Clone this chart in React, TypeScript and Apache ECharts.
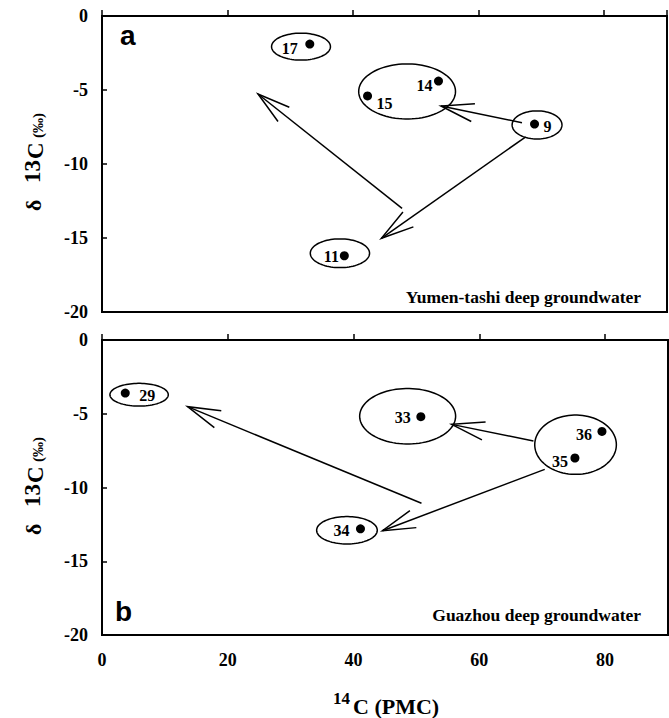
import React, { useEffect, useRef } from "react";
import * as echarts from "echarts";

// ---- data ----
const wellsA = ["17", "14", "15", "9", "11"];
const pmcA = [33.1, 53.6, 42.3, 68.9, 38.6];
const d13cA = [-1.9, -4.4, -5.4, -7.3, -16.2];

const wellsB = ["29", "33", "36", "35", "34"];
const pmcB = [3.7, 50.7, 79.5, 75.2, 41.1];
const d13cB = [-3.6, -5.2, -6.2, -8.0, -12.8];

// sample groups: [centre PMC, centre d13C, half-width PMC, half-height d13C]
const groupsA = [
  [31.7, -2.07, 4.69, 0.91],
  [48.6, -5.1, 7.71, 1.86],
  [69.3, -7.36, 3.97, 0.95],
  [37.9, -16.03, 4.72, 0.97],
];
const groupsB = [
  [5.9, -3.71, 4.64, 0.77],
  [48.6, -5.17, 7.63, 1.88],
  [75.3, -7.1, 6.49, 2.01],
  [38.95, -12.9, 4.82, 0.93],
];

// evolution trends: [from PMC, from d13C, to PMC, to d13C]
const trendsA = [
  [47.8, -13.0, 24.85, -5.27],
  [67.5, -8.16, 44.5, -15.02],
  [66.9, -7.21, 54.0, -6.08],
];
const trendsB = [
  [50.8, -11.07, 13.6, -4.52],
  [70.4, -8.77, 44.6, -12.93],
  [68.6, -6.85, 55.6, -5.72],
];

const xTickStep = 20;
const yTickStep = 5;

// label placement (pixel offsets of the label centre from the dot centre)
const labelOffsetsA = [[-20, 4], [-14, 4], [17, 8], [13, 2], [-13, 1]];
const labelOffsetsB = [[22, 2], [-18, 1], [-18, 3], [-15, 3], [-19, 2]];

const SERIF = "'Liberation Serif', 'Times New Roman', serif";
const SANS = "'Liberation Sans', Arial, sans-serif";
const DOT = 9;

function ellipseRender(params: any, api: any) {
  const c = api.coord([api.value(0), api.value(1)]);
  const s = api.size([api.value(2), api.value(3)]);
  const pts: number[][] = [];
  const n = 90;
  for (let i = 0; i < n; i++) {
    const t = (i / n) * Math.PI * 2;
    pts.push([c[0] + s[0] * Math.cos(t), c[1] + s[1] * Math.sin(t)]);
  }
  return {
    type: "polygon",
    shape: { points: pts },
    style: { fill: "none", stroke: "#000", lineWidth: 1.5 },
  };
}

function arrowRender(params: any, api: any) {
  const p1 = api.coord([api.value(0), api.value(1)]);
  const p2 = api.coord([api.value(2), api.value(3)]);
  const ang = Math.atan2(p1[1] - p2[1], p1[0] - p2[0]);
  const L = 34;
  const spread = (15.5 * Math.PI) / 180;
  const h1 = [p2[0] + L * Math.cos(ang + spread), p2[1] + L * Math.sin(ang + spread)];
  const h2 = [p2[0] + L * Math.cos(ang - spread), p2[1] + L * Math.sin(ang - spread)];
  const style = { fill: "none", stroke: "#000", lineWidth: 1.5 };
  return {
    type: "group",
    children: [
      { type: "line", shape: { x1: p1[0], y1: p1[1], x2: p2[0], y2: p2[1] }, style },
      { type: "polyline", shape: { points: [h1, p2, h2] }, style },
    ],
  };
}

function yTitle(gy: number) {
  return {
    type: "group",
    x: 0,
    y: gy,
    rotation: Math.PI / 2,
    children: [
      { type: "text", x: 0, y: 33, style: { text: "δ", font: `bold 22px ${SERIF}`, fill: "#000", verticalAlign: "middle" } },
      { type: "text", x: 28, y: 32, style: { text: "13", font: `bold 23px ${SERIF}`, fill: "#000", verticalAlign: "middle" } },
      { type: "text", x: 52, y: 35.5, style: { text: "C", font: `bold 23px ${SERIF}`, fill: "#000", verticalAlign: "middle" } },
      { type: "text", x: 73, y: 38, style: { text: "(‰)", font: `bold 15px ${SERIF}`, fill: "#000", verticalAlign: "middle" } },
    ],
  };
}

function xAxisCfg(gridIndex: number, showLabels: boolean) {
  return {
    type: "value",
    gridIndex,
    min: 0,
    max: 90,
    interval: xTickStep,
    axisLine: { show: true, lineStyle: { color: "#000", width: 2 } },
    axisTick: { show: true, inside: true, length: 6, lineStyle: { color: "#000", width: 1.5 } },
    axisLabel: {
      show: showLabels,
      showMaxLabel: false,
      margin: 16,
      color: "#000",
      fontFamily: SERIF,
      fontWeight: "bold",
      fontSize: 18,
    },
    splitLine: { show: false },
  };
}

function yAxisCfg(gridIndex: number) {
  return {
    type: "value",
    gridIndex,
    min: -20,
    max: 0,
    interval: yTickStep,
    axisLine: { show: true, lineStyle: { color: "#000", width: 2 } },
    axisTick: { show: true, inside: true, length: 5, lineStyle: { color: "#000", width: 1.5 } },
    axisLabel: {
      margin: 14,
      color: "#000",
      fontFamily: SERIF,
      fontWeight: "bold",
      fontSize: 18,
    },
    splitLine: { show: false },
  };
}

function pointsSeries(idx: number, names: string[], xs: number[], ys: number[], offs: number[][]) {
  return {
    type: "scatter",
    xAxisIndex: idx,
    yAxisIndex: idx,
    symbol: "circle",
    symbolSize: DOT,
    itemStyle: { color: "#000", opacity: 1 },
    label: {
      show: true,
      formatter: "{b}",
      color: "#000",
      opacity: 1,
      textBorderWidth: 0,
      align: "center",
      verticalAlign: "middle",
      fontFamily: SERIF,
      fontWeight: "bold",
      fontSize: 16,
    },
    data: xs.map((x, i) => ({
      name: names[i],
      value: [x, ys[i]],
      label: { position: [DOT / 2 + offs[i][0], DOT / 2 + offs[i][1]] },
    })),
    z: 5,
  };
}

function groupSeries(idx: number, data: number[][]) {
  return {
    type: "custom",
    xAxisIndex: idx,
    yAxisIndex: idx,
    renderItem: ellipseRender,
    encode: { x: 0, y: 1 },
    data,
    silent: true,
  };
}

function trendSeries(idx: number, data: number[][]) {
  return {
    type: "custom",
    xAxisIndex: idx,
    yAxisIndex: idx,
    renderItem: arrowRender,
    encode: { x: [0, 2], y: [1, 3] },
    data,
    silent: true,
  };
}

export default function App() {
  const ref = useRef<HTMLDivElement>(null);
  useEffect(() => {
    if (!ref.current) return;
    const chart = echarts.init(ref.current, null, { renderer: "svg" });
    chart.setOption({
      animation: false,
      backgroundColor: "#fff",
      grid: [
        { left: 102, top: 16, right: 2, height: 296, show: true, borderColor: "#000", borderWidth: 2, backgroundColor: "transparent" },
        { left: 102, top: 340, right: 1, height: 295, show: true, borderColor: "#000", borderWidth: 2, backgroundColor: "transparent" },
      ],
      xAxis: [xAxisCfg(0, false), xAxisCfg(1, true)],
      yAxis: [yAxisCfg(0), yAxisCfg(1)],
      series: [
        groupSeries(0, groupsA),
        trendSeries(0, trendsA),
        pointsSeries(0, wellsA, pmcA, d13cA, labelOffsetsA),
        groupSeries(1, groupsB),
        trendSeries(1, trendsB),
        pointsSeries(1, wellsB, pmcB, d13cB, labelOffsetsB),
      ],
      graphic: [
        { type: "text", x: 120, y: 35, style: { text: "a", font: `bold 28px ${SANS}`, fill: "#000", verticalAlign: "middle" } },
        { type: "text", x: 115, y: 611, style: { text: "b", font: `bold 28px ${SANS}`, fill: "#000", verticalAlign: "middle" } },
        { type: "text", x: 641, y: 297, style: { text: "Yumen-tashi deep groundwater", font: `bold 17.5px ${SERIF}`, fill: "#000", align: "right", verticalAlign: "middle" } },
        { type: "text", x: 641, y: 615, style: { text: "Guazhou deep groundwater", font: `bold 17.5px ${SERIF}`, fill: "#000", align: "right", verticalAlign: "middle" } },
        yTitle(211),
        yTitle(535),
        {
          type: "group",
          children: [
            { type: "text", x: 333, y: 698, style: { text: "14", font: `bold 17px ${SERIF}`, fill: "#000", verticalAlign: "middle" } },
            { type: "text", x: 353, y: 706, style: { text: "C (PMC)", font: `bold 22px ${SERIF}`, fill: "#000", verticalAlign: "middle" } },
          ],
        },
      ],
    });
    return () => chart.dispose();
  }, []);
  return (
    <div
      ref={ref}
      style={{ position: "fixed", left: 0, top: 0, width: 669, height: 718, background: "#fff" }}
    />
  );
}
